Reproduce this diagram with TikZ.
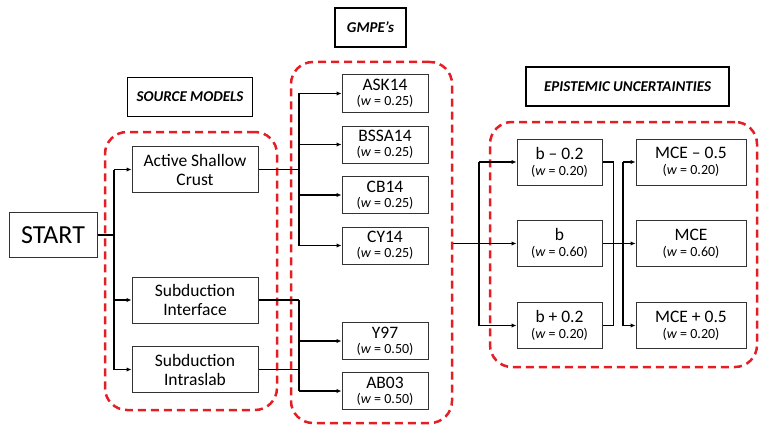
\documentclass[tikz,border=0pt]{standalone}
\usepackage{fontspec}
\setmainfont{Carlito}
\usetikzlibrary{arrows.meta, positioning, calc}
\definecolor{dashred}{RGB}{228,30,36}
\newcommand{\wt}[1]{{\fontsize{14}{15}\selectfont(\textit{w} = #1)}}

\begin{document}
\begin{tikzpicture}[x=1pt, y=-1pt, >={Latex[length=5pt,width=4.5pt]},
    every node/.style={font=\fontsize{17.5}{19}\selectfont},
    box/.style={draw=black!80, line width=1pt, align=center, inner sep=0pt},
    gmpe/.style={box, minimum width=86pt, minimum height=37pt},
    epi/.style={box, minimum width=85pt, minimum height=46pt},
    mce/.style={box, minimum width=110pt, minimum height=46pt},
    src/.style={box, minimum width=126pt, minimum height=46pt},
    head/.style={draw=black, line width=1.4pt, inner sep=0pt, minimum height=39pt,
      font=\fontsize{15}{17}\selectfont\bfseries\itshape},
    group/.style={draw=dashred, line width=2.5pt, dash pattern=on 8pt off 5pt,
      rounded corners=22pt, inner sep=0pt},
    link/.style={line width=1.1pt}]
  \useasboundingbox (0,0) rectangle (759,425);

  % Dashed groups
  \node[group, minimum width=172pt, minimum height=278pt] (srcbox) at (191,271) {};
  \node[group, minimum width=161pt, minimum height=361pt] (gmpebox) at (371.5,242.5) {};
  \node[group, minimum width=267pt, minimum height=245pt] (epibox) at (623.5,244.5) {};

  % Headers
  \node[head, minimum width=125pt] (hsrc) at (190,97) {SOURCE MODELS};
  \node[head, minimum width=71pt] (hgmpe) at (370.5,27.5) {GMPE’s};
  \node[head, minimum width=203pt] (hepi) at (627.5,86.5) {EPISTEMIC UNCERTAINTIES};

  % Start and source models
  \node[box, minimum width=88pt, minimum height=45pt, font=\fontsize{26}{28}\selectfont] (start) at (53,235) {START};
  \node[src] (asc) at (195,169.5) {Active Shallow\\Crust};
  \node[src] (sint) at (195,300) {Subduction\\Interface};
  \node[src] (sintra) at (195,369.5) {Subduction\\Intraslab};

  % GMPEs
  \node[gmpe] (ask) at (385,93.5) {ASK14\\[-4pt]\wt{0.25}};
  \node[gmpe] (bssa) at (385,144.5) {BSSA14\\[-4pt]\wt{0.25}};
  \node[gmpe] (cb) at (385,195) {CB14\\[-4pt]\wt{0.25}};
  \node[gmpe] (cy) at (385,245.5) {CY14\\[-4pt]\wt{0.25}};
  \node[gmpe] (y97) at (385,341) {Y97\\[-4pt]\wt{0.50}};
  \node[gmpe] (ab03) at (385,391) {AB03\\[-4pt]\wt{0.50}};

  % Epistemic uncertainties
  \node[epi] (bm) at (559.5,162) {b – 0.2\\[-3pt]\wt{0.20}};
  \node[epi] (b) at (559.5,243.5) {b\\[-3pt]\wt{0.60}};
  \node[epi] (bp) at (559.5,325.5) {b + 0.2\\[-3pt]\wt{0.20}};
  \node[mce] (mm) at (691,162) {MCE – 0.5\\[-3pt]\wt{0.20}};
  \node[mce] (m) at (691,243.5) {MCE\\[-3pt]\wt{0.60}};
  \node[mce] (mp) at (691,325.5) {MCE + 0.5\\[-3pt]\wt{0.20}};

  % Start -> sources
  \coordinate (j1) at (114,235);
  \draw[link] (start.east) -- (j1);
  \draw[link] (j1 |- asc.west) -- (j1 |- sintra.west);
  \foreach \n in {asc,sint,sintra}
    \draw[link,->] (j1 |- \n.west) -- (\n.west);

  % Sources -> GMPEs
  \coordinate (j2) at (299,0);
  \draw[link] (asc.east) -- (asc.east -| j2);
  \draw[link] (j2 |- ask.west) -- (j2 |- cy.west);
  \foreach \n in {ask,bssa,cb,cy}
    \draw[link,->] (j2 |- \n.west) -- (\n.west);
  \draw[link] (sint.east) -- (sint.east -| j2);
  \draw[link] (sintra.east) -- (sintra.east -| j2);
  \draw[link] (sint.east -| j2) -- (j2 |- ab03.west);
  \foreach \n in {y97,ab03}
    \draw[link,->] (j2 |- \n.west) -- (\n.west);

  % GMPEs -> b values
  \coordinate (j3) at (479,243.5);
  \draw[link] (gmpebox.east |- j3) -- (j3);
  \draw[link] (j3 |- bm.west) -- (j3 |- bp.west);
  \foreach \n in {bm,b,bp}
    \draw[link,->] (j3 |- \n.west) -- (\n.west);

  % b values -> MCE
  \coordinate (j4) at (623,243.5);
  \draw[link] (bm.east) -- ++(11,0) |- (bp.east);
  \draw[link,->] (b.east) -- (m.west);
  \draw[link] (j4 |- mm.west) -- (j4 |- mp.west);
  \foreach \n in {mm,mp}
    \draw[link,->] (j4 |- \n.west) -- (\n.west);
\end{tikzpicture}
\end{document}
